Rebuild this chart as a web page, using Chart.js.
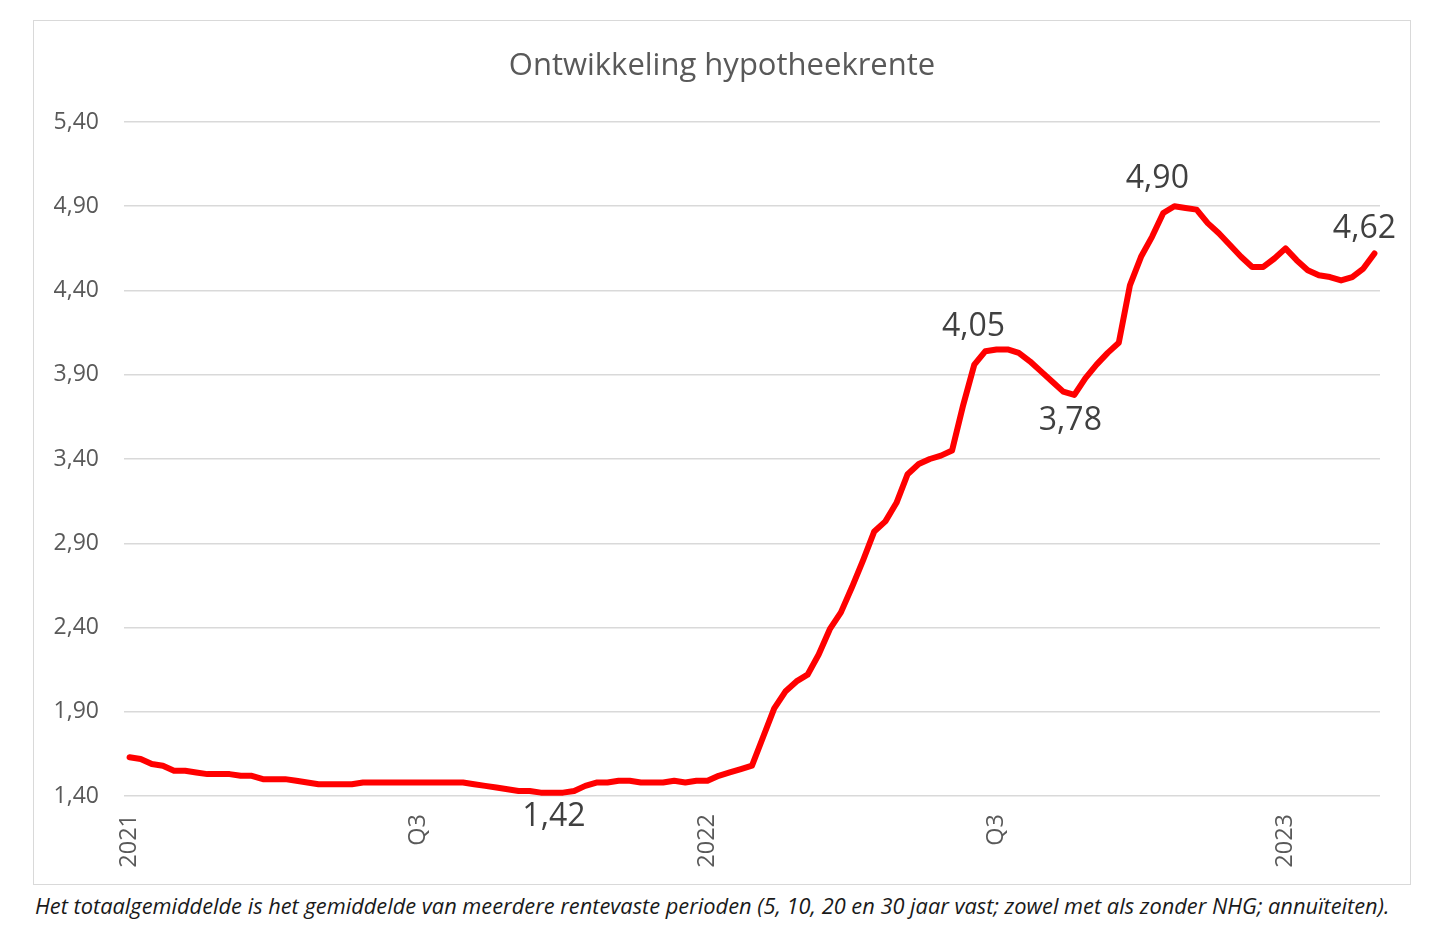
<!DOCTYPE html>
<html>
<head>
<meta charset="utf-8">
<script src="https://cdn.jsdelivr.net/npm/chart.js@4"></script>
<style>
  body { margin: 0; background: #fff; width: 1440px; height: 933px; position: relative; overflow: hidden; }
  #box { position: absolute; left: 33px; top: 20px; width: 1376px; height: 863px; border: 1.5px solid #d9d9d9; }
  #box canvas { display: block; }
  #note { position: absolute; left: 35px; top: 891px; font-family: "Open Sans", sans-serif; font-style: italic; font-size: 21.8px; line-height: 30px; color: #1a1a1a; white-space: nowrap; }
</style>
</head>
<body>
<div id="box"><canvas id="grafiek" width="1376" height="863"></canvas></div>
<div id="note">Het totaalgemiddelde is het gemiddelde van meerdere rentevaste perioden (5, 10, 20 en 30 jaar vast; zowel met als zonder NHG; annuïteiten).</div>
<script>
// weekly average mortgage rate, first week of 2021 onwards
const rente = [
  1.63, 1.62, 1.59, 1.58, 1.55, 1.55, 1.54, 1.53, 1.53, 1.53,
  1.52, 1.52, 1.50, 1.50, 1.50, 1.49, 1.48, 1.47, 1.47, 1.47,
  1.47, 1.48, 1.48, 1.48, 1.48, 1.48, 1.48, 1.48, 1.48, 1.48,
  1.48, 1.47, 1.46, 1.45, 1.44, 1.43, 1.43, 1.42, 1.42, 1.42,
  1.43, 1.46, 1.48, 1.48, 1.49, 1.49, 1.48, 1.48, 1.48, 1.49,
  1.48, 1.49, 1.49, 1.52, 1.54, 1.56, 1.58, 1.75, 1.92, 2.02,
  2.08, 2.12, 2.24, 2.39, 2.49, 2.64, 2.80, 2.97, 3.03, 3.14,
  3.31, 3.37, 3.40, 3.42, 3.45, 3.72, 3.96, 4.04, 4.05, 4.05,
  4.03, 3.98, 3.92, 3.86, 3.80, 3.78, 3.88, 3.96, 4.03, 4.09,
  4.43, 4.60, 4.72, 4.86, 4.90, 4.89, 4.88, 4.80, 4.74, 4.67,
  4.60, 4.54, 4.54, 4.59, 4.65, 4.58, 4.52, 4.49, 4.48, 4.46,
  4.48, 4.53, 4.62
];

// x tick labels and the week they sit on
const tickIndex = [0, 26, 52, 78, 104];
const tickLabels = ["2021", "Q3", "2022", "Q3", "2023"];

// points that get a value label
const labelIndex = [38, 78, 85, 94, 112];
const labelOffset = [[2, 24], [-23, -23], [-4, 26], [-17, -27], [-10, -25]];

const titel = "Ontwikkeling hypotheekrente";

const weken = rente.map((v, i) => {
  const d = new Date(2021, 0, 4 + i * 7);
  return d.toISOString().slice(0, 10);
});

const komma = v => v.toFixed(2).replace(".", ",");

// title centred on the whole box, value labels next to the marked points
const teksten = {
  id: "teksten",
  afterDatasetsDraw(chart) {
    const ctx = chart.ctx;
    const meta = chart.getDatasetMeta(0);
    ctx.save();
    ctx.textAlign = "center";
    ctx.textBaseline = "middle";
    ctx.font = "31px 'Open Sans'";
    ctx.fillStyle = "#595959";
    ctx.fillText(titel, chart.width / 2, 45);
    ctx.font = "32px 'Open Sans'";
    ctx.fillStyle = "#404040";
    labelIndex.forEach((idx, n) => {
      const p = meta.data[idx];
      ctx.fillText(komma(rente[idx]), p.x + labelOffset[n][0], p.y + labelOffset[n][1]);
    });
    ctx.restore();
  }
};

new Chart(document.getElementById("grafiek"), {
  type: "line",
  data: {
    labels: weken,
    datasets: [{
      data: rente,
      borderColor: "#ff0000",
      borderWidth: 6,
      borderJoinStyle: "round",
      borderCapStyle: "round",
      pointRadius: 0,
      tension: 0
    }]
  },
  options: {
    responsive: false,
    animation: false,
    layout: { padding: { left: 0, right: 30, top: 101, bottom: 0 } },
    plugins: {
      legend: { display: false },
      tooltip: { enabled: false }
    },
    scales: {
      x: {
        type: "category",
        offset: true,
        grid: { display: false },
        border: { display: false },
        afterFit: s => { s.height = 88; },
        ticks: {
          autoSkip: false,
          maxRotation: 90,
          minRotation: 90,
          padding: 10,
          color: "#595959",
          font: { family: "Open Sans", size: 23.5 },
          callback: (val, i) => {
            const k = tickIndex.indexOf(i);
            return k >= 0 ? tickLabels[k] : null;
          }
        }
      },
      y: {
        min: 1.4,
        max: 5.4,
        border: { display: false },
        grid: { color: "#d9d9d9", lineWidth: 1.5, drawTicks: false },
        afterFit: s => { s.width = 90; },
        ticks: {
          stepSize: 0.5,
          padding: 25,
          color: "#595959",
          font: { family: "Open Sans", size: 23 },
          callback: v => komma(v)
        }
      }
    }
  },
  plugins: [teksten]
});
</script>
</body>
</html>
